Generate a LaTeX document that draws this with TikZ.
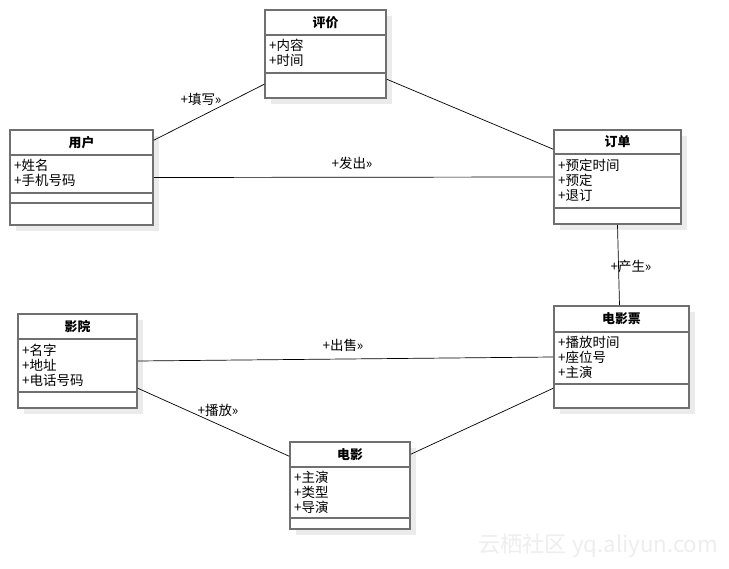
\documentclass[tikz,border=0pt]{standalone}
\usepackage{fontspec}
\setmainfont{Noto Sans CJK SC}
\usetikzlibrary{fit, calc, shadows}

\definecolor{boxgray}{HTML}{707070}
\definecolor{shadowgray}{HTML}{EBEBEB}
\definecolor{markgray}{HTML}{EEEEEE}

\begin{document}
\begin{tikzpicture}[x=0.03cm, y=-0.03cm,
    % Define the styles for the class boxes
    classbox/.style={draw=boxgray, line width=1.3pt, fill=white, inner sep=0pt,
        drop shadow={shadow xshift=5pt, shadow yshift=-5pt, fill=shadowgray, opacity=1}},
    sepline/.style={boxgray, line width=1.3pt},
    classname/.style={font=\bfseries\fontsize{11}{13}\selectfont, inner sep=0pt},
    attr/.style={font=\fontsize{11.5}{13}\selectfont, inner sep=0pt, anchor=west},
    % Define the styles for the associations
    assoc/.style={line width=0.6pt},
    role/.style={font=\fontsize{11.5}{13}\selectfont, inner sep=0pt}
]

% Background and picture size
\fill[white] (0,0) rectangle (729,569);
\useasboundingbox (0,0) rectangle (729,569);

% Class 评价
\node[classbox, fit={(265,10) (386,98)}] (pingjia) {};
\draw[sepline] (pingjia.west |- 0,35) -- (pingjia.east |- 0,35);
\draw[sepline] (pingjia.west |- 0,73) -- (pingjia.east |- 0,73);
\node[classname] (pingjia-t) at (pingjia.north |- 0,22.5) {评价};
\foreach \a [count=\i] in {内容,时间}
    \node[attr] (pingjia-\i) at (269,{45+15*(\i-1)}) {+\a};

% Class 用户
\node[classbox, fit={(10,130) (153,225)}] (yonghu) {};
\draw[sepline] (yonghu.west |- 0,155) -- (yonghu.east |- 0,155);
\draw[sepline] (yonghu.west |- 0,193) -- (yonghu.east |- 0,193);
\draw[sepline] (yonghu.west |- 0,203) -- (yonghu.east |- 0,203);
\node[classname] (yonghu-t) at (yonghu.north |- 0,142.5) {用户};
\foreach \a [count=\i] in {姓名,手机号码}
    \node[attr] (yonghu-\i) at (14,{165+15*(\i-1)}) {+\a};

% Class 订单
\node[classbox, fit={(554,130) (681,224)}] (dingdan) {};
\draw[sepline] (dingdan.west |- 0,154) -- (dingdan.east |- 0,154);
\draw[sepline] (dingdan.west |- 0,208) -- (dingdan.east |- 0,208);
\node[classname] (dingdan-t) at (dingdan.north |- 0,142) {订单};
\foreach \a [count=\i] in {预定时间,预定,退订}
    \node[attr] (dingdan-\i) at (558,{165+15*(\i-1)}) {+\a};

% Class 影院
\node[classbox, fit={(18,314) (137,408)}] (yingyuan) {};
\draw[sepline] (yingyuan.west |- 0,339) -- (yingyuan.east |- 0,339);
\draw[sepline] (yingyuan.west |- 0,392) -- (yingyuan.east |- 0,392);
\node[classname] (yingyuan-t) at (yingyuan.north |- 0,326.5) {影院};
\foreach \a [count=\i] in {名字,地址,电话号码}
    \node[attr] (yingyuan-\i) at (22,{350+15*(\i-1)}) {+\a};

% Class 电影票
\node[classbox, fit={(554,306) (689,408)}] (piao) {};
\draw[sepline] (piao.west |- 0,332) -- (piao.east |- 0,332);
\draw[sepline] (piao.west |- 0,384) -- (piao.east |- 0,384);
\node[classname] (piao-t) at (piao.north |- 0,319) {电影票};
\foreach \a [count=\i] in {播放时间,座位号,主演}
    \node[attr] (piao-\i) at (558,{342+15*(\i-1)}) {+\a};

% Class 电影
\node[classbox, fit={(290,442) (410,529)}] (dianying) {};
\draw[sepline] (dianying.west |- 0,467) -- (dianying.east |- 0,467);
\draw[sepline] (dianying.west |- 0,518) -- (dianying.east |- 0,518);
\node[classname] (dianying-t) at (dianying.north |- 0,454.5) {电影};
\foreach \a [count=\i] in {主演,类型,导演}
    \node[attr] (dianying-\i) at (294,{477+15*(\i-1)}) {+\a};

% Draw the associations
\draw[assoc] ($(yonghu.north east)+(0,11)$) -- ($(pingjia.north west)+(0,75)$);
\draw[assoc] ($(pingjia.north east)+(0,70)$) -- ($(dingdan.north west)+(0,20)$);
\draw[assoc] (yonghu.east) -- (dingdan.west);
\draw[assoc] (dingdan.south) -- ($(piao.north)+(-2,0)$);
\draw[assoc] (yingyuan.east) -- (piao.west);
\draw[assoc] ($(yingyuan.north east)+(0,75)$) -- ($(dianying.north west)+(0,15)$);
\draw[assoc] ($(dianying.north east)+(0,13)$) -- ($(piao.north west)+(0,83)$);

% Add the role labels
\node[role] (tianxie) at (201,99) {+填写»};
\node[role] (fachu) at (352,163) {+发出»};
\node[role] (chansheng) at (631,266) {+产生»};
\node[role] (chushou) at (343,345) {+出售»};
\node[role] (bofang) at (218,410) {+播放»};

% Watermark
\node[font=\fontsize{19}{22}\selectfont, text=markgray, inner sep=0pt] (mark) at (598,546) {云栖社区 yq.aliyun.com};

\end{tikzpicture}
\end{document}
